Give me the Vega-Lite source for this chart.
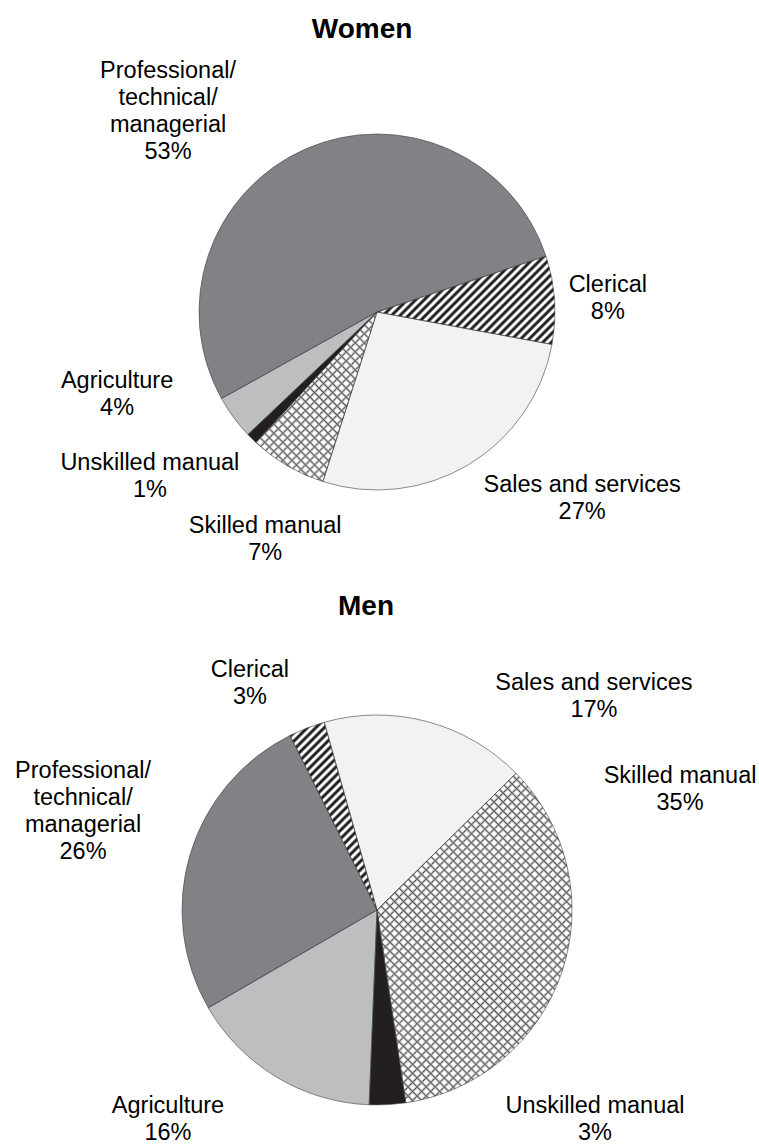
{
  "$schema": "https://vega.github.io/schema/vega-lite/v6.json",
  "background": "white",
  "padding": {"left": 0, "top": 16, "right": 0, "bottom": 0},
  "spacing": 26,
  "config": {
    "view": {"stroke": null},
    "font": "Liberation Sans",
    "text": {"fontSize": 23.5, "lineHeight": 27, "lineBreak": "\n", "align": "center", "baseline": "alphabetic", "font": "Liberation Sans", "color": "#000000"}
  },
  "datasets": {
    "occ": [
      {"sex": "Women", "occupation": "Clerical", "pct": 8},
      {"sex": "Women", "occupation": "Sales and services", "pct": 27},
      {"sex": "Women", "occupation": "Skilled manual", "pct": 7},
      {"sex": "Women", "occupation": "Unskilled manual", "pct": 1},
      {"sex": "Women", "occupation": "Agriculture", "pct": 4},
      {"sex": "Women", "occupation": "Professional/technical/managerial", "pct": 53},
      {"sex": "Men", "occupation": "Clerical", "pct": 3},
      {"sex": "Men", "occupation": "Sales and services", "pct": 17},
      {"sex": "Men", "occupation": "Skilled manual", "pct": 35},
      {"sex": "Men", "occupation": "Unskilled manual", "pct": 3},
      {"sex": "Men", "occupation": "Agriculture", "pct": 16},
      {"sex": "Men", "occupation": "Professional/technical/managerial", "pct": 26}
    ]
  },
  "vconcat": [
    {
      "title": {"text": "Women", "fontSize": 28, "fontWeight": "bold", "font": "Liberation Sans", "color": "#000000", "offset": 13, "dx": -15},
      "width": 754,
      "height": 510,
      "data": {"name": "occ"},
      "transform": [
        {"filter": "datum.sex === 'Women'"},
        {"stack": "pct", "groupby": ["sex"], "as": ["s0", "s1"]},
        {"calculate": "(datum.s0 + datum.s1) / 2", "as": "mid"},
        {"calculate": "join(split(datum.occupation, '/'), '/\\n') + '\\n' + datum.pct + '%'", "as": "label"}
      ],
      "layer": [
        {
          "mark": {"type": "arc", "radius": 178},
          "encoding": {
            "theta": {"field": "s0", "type": "quantitative", "stack": null, "scale": {"domain": [0, 100], "range": [1.2514, 7.53459]}},
            "theta2": {"field": "s1"},
            "color": {"field": "occupation", "type": "nominal", "legend": null, "scale": {"domain": ["Clerical", "Sales and services", "Skilled manual", "Unskilled manual", "Agriculture", "Professional/technical/managerial"], "range": ["#ffffff", "#f1f2f2", "#ffffff", "#231f20", "#bcbec0", "#808285"]}}
          }
        },
        {
          "transform": [{"filter": "datum.occupation === 'Clerical'"}],
          "mark": {"type": "arc", "radius": 178, "fill": {"gradient": "linear", "x1": 0, "y1": 0.6331, "x2": 0.9558, "y2": 1.1072, "stops": [
            {"offset":0,"color":"#222"},{"offset":0.01,"color":"#222"},{"offset":0.02,"color":"#fff"},{"offset":0.03,"color":"#fff"},
            {"offset":0.04,"color":"#222"},{"offset":0.05,"color":"#222"},{"offset":0.06,"color":"#fff"},{"offset":0.07,"color":"#fff"},
            {"offset":0.08,"color":"#222"},{"offset":0.09,"color":"#222"},{"offset":0.10,"color":"#fff"},{"offset":0.11,"color":"#fff"},
            {"offset":0.12,"color":"#222"},{"offset":0.13,"color":"#222"},{"offset":0.14,"color":"#fff"},{"offset":0.15,"color":"#fff"},
            {"offset":0.16,"color":"#222"},{"offset":0.17,"color":"#222"},{"offset":0.18,"color":"#fff"},{"offset":0.19,"color":"#fff"},
            {"offset":0.20,"color":"#222"},{"offset":0.21,"color":"#222"},{"offset":0.22,"color":"#fff"},{"offset":0.23,"color":"#fff"},
            {"offset":0.24,"color":"#222"},{"offset":0.25,"color":"#222"},{"offset":0.26,"color":"#fff"},{"offset":0.27,"color":"#fff"},
            {"offset":0.28,"color":"#222"},{"offset":0.29,"color":"#222"},{"offset":0.30,"color":"#fff"},{"offset":0.31,"color":"#fff"},
            {"offset":0.32,"color":"#222"},{"offset":0.33,"color":"#222"},{"offset":0.34,"color":"#fff"},{"offset":0.35,"color":"#fff"},
            {"offset":0.36,"color":"#222"},{"offset":0.37,"color":"#222"},{"offset":0.38,"color":"#fff"},{"offset":0.39,"color":"#fff"},
            {"offset":0.40,"color":"#222"},{"offset":0.41,"color":"#222"},{"offset":0.42,"color":"#fff"},{"offset":0.43,"color":"#fff"},
            {"offset":0.44,"color":"#222"},{"offset":0.45,"color":"#222"},{"offset":0.46,"color":"#fff"},{"offset":0.47,"color":"#fff"},
            {"offset":0.48,"color":"#222"},{"offset":0.49,"color":"#222"},{"offset":0.50,"color":"#fff"},{"offset":0.51,"color":"#fff"},
            {"offset":0.52,"color":"#222"},{"offset":0.53,"color":"#222"},{"offset":0.54,"color":"#fff"},{"offset":0.55,"color":"#fff"},
            {"offset":0.56,"color":"#222"},{"offset":0.57,"color":"#222"},{"offset":0.58,"color":"#fff"},{"offset":0.59,"color":"#fff"},
            {"offset":0.60,"color":"#222"},{"offset":0.61,"color":"#222"},{"offset":0.62,"color":"#fff"},{"offset":0.63,"color":"#fff"},
            {"offset":0.64,"color":"#222"},{"offset":0.65,"color":"#222"},{"offset":0.66,"color":"#fff"},{"offset":0.67,"color":"#fff"},
            {"offset":0.68,"color":"#222"},{"offset":0.69,"color":"#222"},{"offset":0.70,"color":"#fff"},{"offset":0.71,"color":"#fff"},
            {"offset":0.72,"color":"#222"},{"offset":0.73,"color":"#222"},{"offset":0.74,"color":"#fff"},{"offset":0.75,"color":"#fff"},
            {"offset":0.76,"color":"#222"},{"offset":0.77,"color":"#222"},{"offset":0.78,"color":"#fff"},{"offset":0.79,"color":"#fff"},
            {"offset":0.80,"color":"#222"},{"offset":0.81,"color":"#222"},{"offset":0.82,"color":"#fff"},{"offset":0.83,"color":"#fff"},
            {"offset":0.84,"color":"#222"},{"offset":0.85,"color":"#222"},{"offset":0.86,"color":"#fff"},{"offset":0.87,"color":"#fff"},
            {"offset":0.88,"color":"#222"},{"offset":0.89,"color":"#222"},{"offset":0.90,"color":"#fff"},{"offset":0.91,"color":"#fff"},
            {"offset":0.92,"color":"#222"},{"offset":0.93,"color":"#222"},{"offset":0.94,"color":"#fff"},{"offset":0.95,"color":"#fff"},
            {"offset":0.96,"color":"#222"},{"offset":0.97,"color":"#222"},{"offset":0.98,"color":"#fff"},{"offset":0.99,"color":"#fff"},
            {"offset":1,"color":"#222"}
          ]}},
          "encoding": {
            "theta": {"field": "s0", "type": "quantitative", "stack": null, "scale": {"domain": [0, 100], "range": [1.2514, 7.53459]}},
            "theta2": {"field": "s1"}
          }
        },
        {
          "transform": [{"filter": "datum.occupation === 'Skilled manual'"}],
          "mark": {"type": "arc", "radius": 178, "fill": {"gradient": "linear", "x1": 1, "y1": 0, "x2": 2.6819, "y2": 2.3535, "stops": [
            {"offset":0,"color":"#505050"},{"offset":0.005,"color":"#fff0"},{"offset":0.01,"color":"#fff0"},
            {"offset":0.015,"color":"#505050"},{"offset":0.02,"color":"#fff0"},{"offset":0.025,"color":"#fff0"},
            {"offset":0.03,"color":"#505050"},{"offset":0.035,"color":"#fff0"},{"offset":0.04,"color":"#fff0"},
            {"offset":0.045,"color":"#505050"},{"offset":0.05,"color":"#fff0"},{"offset":0.055,"color":"#fff0"},
            {"offset":0.06,"color":"#505050"},{"offset":0.065,"color":"#fff0"},{"offset":0.07,"color":"#fff0"},
            {"offset":0.075,"color":"#505050"},{"offset":0.08,"color":"#fff0"},{"offset":0.085,"color":"#fff0"},
            {"offset":0.09,"color":"#505050"},{"offset":0.095,"color":"#fff0"},{"offset":0.1,"color":"#fff0"},
            {"offset":0.105,"color":"#505050"},{"offset":0.11,"color":"#fff0"},{"offset":0.115,"color":"#fff0"},
            {"offset":0.12,"color":"#505050"},{"offset":0.125,"color":"#fff0"},{"offset":0.13,"color":"#fff0"},
            {"offset":0.135,"color":"#505050"},{"offset":0.14,"color":"#fff0"},{"offset":0.145,"color":"#fff0"},
            {"offset":0.15,"color":"#505050"},{"offset":0.155,"color":"#fff0"},{"offset":0.16,"color":"#fff0"},
            {"offset":0.165,"color":"#505050"},{"offset":0.17,"color":"#fff0"},{"offset":0.175,"color":"#fff0"},
            {"offset":0.18,"color":"#505050"},{"offset":0.185,"color":"#fff0"},{"offset":0.19,"color":"#fff0"},
            {"offset":0.195,"color":"#505050"}
          ]}},
          "encoding": {
            "theta": {"field": "s0", "type": "quantitative", "stack": null, "scale": {"domain": [0, 100], "range": [1.2514, 7.53459]}},
            "theta2": {"field": "s1"}
          }
        },
        {
          "transform": [{"filter": "datum.occupation === 'Skilled manual'"}],
          "mark": {"type": "arc", "radius": 178, "fill": {"gradient": "linear", "x1": 1, "y1": 1.4835, "x2": 2.6819, "y2": -0.87, "stops": [
            {"offset":0,"color":"#505050"},{"offset":0.005,"color":"#fff0"},{"offset":0.01,"color":"#fff0"},
            {"offset":0.015,"color":"#505050"},{"offset":0.02,"color":"#fff0"},{"offset":0.025,"color":"#fff0"},
            {"offset":0.03,"color":"#505050"},{"offset":0.035,"color":"#fff0"},{"offset":0.04,"color":"#fff0"},
            {"offset":0.045,"color":"#505050"},{"offset":0.05,"color":"#fff0"},{"offset":0.055,"color":"#fff0"},
            {"offset":0.06,"color":"#505050"},{"offset":0.065,"color":"#fff0"},{"offset":0.07,"color":"#fff0"},
            {"offset":0.075,"color":"#505050"},{"offset":0.08,"color":"#fff0"},{"offset":0.085,"color":"#fff0"},
            {"offset":0.09,"color":"#505050"},{"offset":0.095,"color":"#fff0"},{"offset":0.1,"color":"#fff0"},
            {"offset":0.105,"color":"#505050"},{"offset":0.11,"color":"#fff0"},{"offset":0.115,"color":"#fff0"},
            {"offset":0.12,"color":"#505050"},{"offset":0.125,"color":"#fff0"},{"offset":0.13,"color":"#fff0"},
            {"offset":0.135,"color":"#505050"},{"offset":0.14,"color":"#fff0"},{"offset":0.145,"color":"#fff0"},
            {"offset":0.15,"color":"#505050"},{"offset":0.155,"color":"#fff0"},{"offset":0.16,"color":"#fff0"},
            {"offset":0.165,"color":"#505050"},{"offset":0.17,"color":"#fff0"},{"offset":0.175,"color":"#fff0"},
            {"offset":0.18,"color":"#505050"},{"offset":0.185,"color":"#fff0"},{"offset":0.19,"color":"#fff0"},
            {"offset":0.195,"color":"#505050"},{"offset":0.2,"color":"#fff0"},{"offset":0.205,"color":"#fff0"},
            {"offset":0.21,"color":"#505050"},{"offset":0.215,"color":"#fff0"},{"offset":0.22,"color":"#fff0"},
            {"offset":0.225,"color":"#505050"},{"offset":0.23,"color":"#fff0"},{"offset":0.235,"color":"#fff0"},
            {"offset":0.24,"color":"#505050"},{"offset":0.245,"color":"#fff0"},{"offset":0.25,"color":"#fff0"},
            {"offset":0.255,"color":"#505050"},{"offset":0.26,"color":"#fff0"},{"offset":0.265,"color":"#fff0"},
            {"offset":0.27,"color":"#505050"},{"offset":0.275,"color":"#fff0"},{"offset":0.28,"color":"#fff0"},
            {"offset":0.285,"color":"#505050"},{"offset":0.29,"color":"#fff0"},{"offset":0.295,"color":"#fff0"},
            {"offset":0.3,"color":"#505050"},{"offset":0.305,"color":"#fff0"},{"offset":0.31,"color":"#fff0"},
            {"offset":0.315,"color":"#505050"},{"offset":0.32,"color":"#fff0"},{"offset":0.325,"color":"#fff0"},
            {"offset":0.33,"color":"#505050"},{"offset":0.335,"color":"#fff0"},{"offset":0.34,"color":"#fff0"},
            {"offset":0.345,"color":"#505050"},{"offset":0.35,"color":"#fff0"},{"offset":0.355,"color":"#fff0"},
            {"offset":0.36,"color":"#505050"},{"offset":0.365,"color":"#fff0"},{"offset":0.37,"color":"#fff0"},
            {"offset":0.375,"color":"#505050"},{"offset":0.38,"color":"#fff0"},{"offset":0.385,"color":"#fff0"},
            {"offset":0.39,"color":"#505050"},{"offset":0.395,"color":"#fff0"},{"offset":0.4,"color":"#fff0"},
            {"offset":0.405,"color":"#505050"},{"offset":0.41,"color":"#fff0"},{"offset":0.415,"color":"#fff0"},
            {"offset":0.42,"color":"#505050"}
          ]}},
          "encoding": {
            "theta": {"field": "s0", "type": "quantitative", "stack": null, "scale": {"domain": [0, 100], "range": [1.2514, 7.53459]}},
            "theta2": {"field": "s1"}
          }
        },
        {
          "mark": {"type": "arc", "radius": 178, "fillOpacity": 0, "stroke": "#414042", "strokeWidth": 0.6},
          "encoding": {
            "theta": {"field": "s0", "type": "quantitative", "stack": null, "scale": {"domain": [0, 100], "range": [1.2514, 7.53459]}},
            "theta2": {"field": "s1"}
          }
        },
        {
          "transform": [{"filter": "datum.occupation === 'Professional/technical/managerial'"}],
          "mark": {"type": "text", "radius": 313.5, "thetaOffset": -0.3159},
          "encoding": {"theta": {"field": "mid", "type": "quantitative", "stack": null, "scale": {"domain": [0, 100], "range": [1.2514, 7.53459]}}, "text": {"field": "label"}}
        },
        {
          "transform": [{"filter": "datum.occupation === 'Clerical'"}],
          "mark": {"type": "text", "radius": 231.7, "thetaOffset": -0.0192},
          "encoding": {"theta": {"field": "mid", "type": "quantitative", "stack": null, "scale": {"domain": [0, 100], "range": [1.2514, 7.53459]}}, "text": {"field": "label"}}
        },
        {
          "transform": [{"filter": "datum.occupation === 'Sales and services'"}],
          "mark": {"type": "text", "radius": 273.0, "thetaOffset": -0.3107},
          "encoding": {"theta": {"field": "mid", "type": "quantitative", "stack": null, "scale": {"domain": [0, 100], "range": [1.2514, 7.53459]}}, "text": {"field": "label"}}
        },
        {
          "transform": [{"filter": "datum.occupation === 'Skilled manual'"}],
          "mark": {"type": "text", "radius": 248.0, "thetaOffset": -0.0611},
          "encoding": {"theta": {"field": "mid", "type": "quantitative", "stack": null, "scale": {"domain": [0, 100], "range": [1.2514, 7.53459]}}, "text": {"field": "label"}}
        },
        {
          "transform": [{"filter": "datum.occupation === 'Unskilled manual'"}],
          "mark": {"type": "text", "radius": 276.6, "thetaOffset": 0.1833},
          "encoding": {"theta": {"field": "mid", "type": "quantitative", "stack": null, "scale": {"domain": [0, 100], "range": [1.2514, 7.53459]}}, "text": {"field": "label"}}
        },
        {
          "transform": [{"filter": "datum.occupation === 'Agriculture'"}],
          "mark": {"type": "text", "radius": 270.7, "thetaOffset": 0.3508},
          "encoding": {"theta": {"field": "mid", "type": "quantitative", "stack": null, "scale": {"domain": [0, 100], "range": [1.2514, 7.53459]}}, "text": {"field": "label"}}
        }
      ]
    },
    {
      "title": {"text": "Men", "fontSize": 28, "fontWeight": "bold", "font": "Liberation Sans", "color": "#000000", "offset": 36, "dx": -11},
      "width": 754,
      "height": 506,
      "data": {"name": "occ"},
      "transform": [
        {"filter": "datum.sex === 'Men'"},
        {"stack": "pct", "groupby": ["sex"], "as": ["s0", "s1"]},
        {"calculate": "(datum.s0 + datum.s1) / 2", "as": "mid"},
        {"calculate": "join(split(datum.occupation, '/'), '/\\n') + '\\n' + datum.pct + '%'", "as": "label"}
      ],
      "layer": [
        {
          "mark": {"type": "arc", "radius": 195},
          "encoding": {
            "theta": {"field": "s0", "type": "quantitative", "stack": null, "scale": {"domain": [0, 100], "range": [-0.46251, 5.82068]}},
            "theta2": {"field": "s1"},
            "color": {"field": "occupation", "type": "nominal", "legend": null, "scale": {"domain": ["Clerical", "Sales and services", "Skilled manual", "Unskilled manual", "Agriculture", "Professional/technical/managerial"], "range": ["#ffffff", "#f1f2f2", "#ffffff", "#231f20", "#bcbec0", "#808285"]}}
          }
        },
        {
          "transform": [{"filter": "datum.occupation === 'Clerical'"}],
          "mark": {"type": "arc", "radius": 195, "fill": {"gradient": "linear", "x1": 1, "y1": -0.3932, "x2": 1.5391, "y2": 0.7698, "stops": [
            {"offset":0,"color":"#222"},{"offset":0.008,"color":"#222"},{"offset":0.016,"color":"#fff"},{"offset":0.024,"color":"#fff"},
            {"offset":0.032,"color":"#222"},{"offset":0.04,"color":"#222"},{"offset":0.048,"color":"#fff"},{"offset":0.056,"color":"#fff"},
            {"offset":0.064,"color":"#222"},{"offset":0.072,"color":"#222"},{"offset":0.08,"color":"#fff"},{"offset":0.088,"color":"#fff"},
            {"offset":0.096,"color":"#222"},{"offset":0.104,"color":"#222"},{"offset":0.112,"color":"#fff"},{"offset":0.12,"color":"#fff"},
            {"offset":0.128,"color":"#222"},{"offset":0.136,"color":"#222"},{"offset":0.144,"color":"#fff"},{"offset":0.152,"color":"#fff"},
            {"offset":0.16,"color":"#222"},{"offset":0.168,"color":"#222"},{"offset":0.176,"color":"#fff"},{"offset":0.184,"color":"#fff"},
            {"offset":0.192,"color":"#222"},{"offset":0.2,"color":"#222"},{"offset":0.208,"color":"#fff"},{"offset":0.216,"color":"#fff"},
            {"offset":0.224,"color":"#222"},{"offset":0.232,"color":"#222"},{"offset":0.24,"color":"#fff"},{"offset":0.248,"color":"#fff"},
            {"offset":0.256,"color":"#222"},{"offset":0.264,"color":"#222"},{"offset":0.272,"color":"#fff"},{"offset":0.28,"color":"#fff"},
            {"offset":0.288,"color":"#222"},{"offset":0.296,"color":"#222"},{"offset":0.304,"color":"#fff"},{"offset":0.312,"color":"#fff"},
            {"offset":0.32,"color":"#222"},{"offset":0.328,"color":"#222"},{"offset":0.336,"color":"#fff"},{"offset":0.344,"color":"#fff"},
            {"offset":0.352,"color":"#222"},{"offset":0.36,"color":"#222"},{"offset":0.368,"color":"#fff"},{"offset":0.376,"color":"#fff"},
            {"offset":0.384,"color":"#222"},{"offset":0.392,"color":"#222"},{"offset":0.4,"color":"#fff"},{"offset":0.408,"color":"#fff"},
            {"offset":0.416,"color":"#222"},{"offset":0.424,"color":"#222"},{"offset":0.432,"color":"#fff"},{"offset":0.44,"color":"#fff"},
            {"offset":0.448,"color":"#222"},{"offset":0.456,"color":"#222"},{"offset":0.464,"color":"#fff"},{"offset":0.472,"color":"#fff"},
            {"offset":0.48,"color":"#222"},{"offset":0.488,"color":"#222"},{"offset":0.496,"color":"#fff"},{"offset":0.504,"color":"#fff"},
            {"offset":0.512,"color":"#222"},{"offset":0.52,"color":"#222"},{"offset":0.528,"color":"#fff"},{"offset":0.536,"color":"#fff"},
            {"offset":0.544,"color":"#222"},{"offset":0.552,"color":"#222"},{"offset":0.56,"color":"#fff"},{"offset":0.568,"color":"#fff"},
            {"offset":0.576,"color":"#222"},{"offset":0.584,"color":"#222"},{"offset":0.592,"color":"#fff"},{"offset":0.6,"color":"#fff"},
            {"offset":0.608,"color":"#222"},{"offset":0.616,"color":"#222"},{"offset":0.624,"color":"#fff"},{"offset":0.632,"color":"#fff"},
            {"offset":0.64,"color":"#222"},{"offset":0.648,"color":"#222"},{"offset":0.656,"color":"#fff"},{"offset":0.664,"color":"#fff"},
            {"offset":0.672,"color":"#222"},{"offset":0.68,"color":"#222"},{"offset":0.688,"color":"#fff"},{"offset":0.696,"color":"#fff"},
            {"offset":0.704,"color":"#222"},{"offset":0.712,"color":"#222"},{"offset":0.72,"color":"#fff"},{"offset":0.728,"color":"#fff"},
            {"offset":0.736,"color":"#222"},{"offset":0.744,"color":"#222"},{"offset":0.752,"color":"#fff"},{"offset":0.76,"color":"#fff"},
            {"offset":0.768,"color":"#222"},{"offset":0.776,"color":"#222"},{"offset":0.784,"color":"#fff"},{"offset":0.792,"color":"#fff"},
            {"offset":0.8,"color":"#222"},{"offset":0.808,"color":"#222"},{"offset":0.816,"color":"#fff"},{"offset":0.824,"color":"#fff"},
            {"offset":0.832,"color":"#222"},{"offset":0.84,"color":"#222"},{"offset":0.848,"color":"#fff"},{"offset":0.856,"color":"#fff"},
            {"offset":0.864,"color":"#222"},{"offset":0.872,"color":"#222"},{"offset":0.88,"color":"#fff"},{"offset":0.888,"color":"#fff"},
            {"offset":0.896,"color":"#222"},{"offset":0.904,"color":"#222"},{"offset":0.912,"color":"#fff"},{"offset":0.92,"color":"#fff"},
            {"offset":0.928,"color":"#222"},{"offset":0.936,"color":"#222"},{"offset":0.944,"color":"#fff"},{"offset":0.952,"color":"#fff"},
            {"offset":0.96,"color":"#222"},{"offset":0.968,"color":"#222"},{"offset":0.976,"color":"#fff"},{"offset":0.984,"color":"#fff"},
            {"offset":0.992,"color":"#222"},{"offset":1,"color":"#222"}
          ]}},
          "encoding": {
            "theta": {"field": "s0", "type": "quantitative", "stack": null, "scale": {"domain": [0, 100], "range": [-0.46251, 5.82068]}},
            "theta2": {"field": "s1"}
          }
        },
        {
          "transform": [{"filter": "datum.occupation === 'Skilled manual'"}],
          "mark": {"type": "arc", "radius": 195, "fill": {"gradient": "linear", "x1": 0, "y1": 0.4147, "x2": 0.8018, "y2": 1.77, "stops": [
            {"offset":0,"color":"#505050"},{"offset":0.005,"color":"#fff0"},{"offset":0.01,"color":"#fff0"},
            {"offset":0.015,"color":"#505050"},{"offset":0.02,"color":"#fff0"},{"offset":0.025,"color":"#fff0"},
            {"offset":0.03,"color":"#505050"},{"offset":0.035,"color":"#fff0"},{"offset":0.04,"color":"#fff0"},
            {"offset":0.045,"color":"#505050"},{"offset":0.05,"color":"#fff0"},{"offset":0.055,"color":"#fff0"},
            {"offset":0.06,"color":"#505050"},{"offset":0.065,"color":"#fff0"},{"offset":0.07,"color":"#fff0"},
            {"offset":0.075,"color":"#505050"},{"offset":0.08,"color":"#fff0"},{"offset":0.085,"color":"#fff0"},
            {"offset":0.09,"color":"#505050"},{"offset":0.095,"color":"#fff0"},{"offset":0.1,"color":"#fff0"},
            {"offset":0.105,"color":"#505050"},{"offset":0.11,"color":"#fff0"},{"offset":0.115,"color":"#fff0"},
            {"offset":0.12,"color":"#505050"},{"offset":0.125,"color":"#fff0"},{"offset":0.13,"color":"#fff0"},
            {"offset":0.135,"color":"#505050"},{"offset":0.14,"color":"#fff0"},{"offset":0.145,"color":"#fff0"},
            {"offset":0.15,"color":"#505050"},{"offset":0.155,"color":"#fff0"},{"offset":0.16,"color":"#fff0"},
            {"offset":0.165,"color":"#505050"},{"offset":0.17,"color":"#fff0"},{"offset":0.175,"color":"#fff0"},
            {"offset":0.18,"color":"#505050"},{"offset":0.185,"color":"#fff0"},{"offset":0.19,"color":"#fff0"},
            {"offset":0.195,"color":"#505050"},{"offset":0.2,"color":"#fff0"},{"offset":0.205,"color":"#fff0"},
            {"offset":0.21,"color":"#505050"},{"offset":0.215,"color":"#fff0"},{"offset":0.22,"color":"#fff0"},
            {"offset":0.225,"color":"#505050"},{"offset":0.23,"color":"#fff0"},{"offset":0.235,"color":"#fff0"},
            {"offset":0.24,"color":"#505050"},{"offset":0.245,"color":"#fff0"},{"offset":0.25,"color":"#fff0"},
            {"offset":0.255,"color":"#505050"},{"offset":0.26,"color":"#fff0"},{"offset":0.265,"color":"#fff0"},
            {"offset":0.27,"color":"#505050"},{"offset":0.275,"color":"#fff0"},{"offset":0.28,"color":"#fff0"},
            {"offset":0.285,"color":"#505050"},{"offset":0.29,"color":"#fff0"},{"offset":0.295,"color":"#fff0"},
            {"offset":0.3,"color":"#505050"},{"offset":0.305,"color":"#fff0"},{"offset":0.31,"color":"#fff0"},
            {"offset":0.315,"color":"#505050"},{"offset":0.32,"color":"#fff0"},{"offset":0.325,"color":"#fff0"},
            {"offset":0.33,"color":"#505050"},{"offset":0.335,"color":"#fff0"},{"offset":0.34,"color":"#fff0"},
            {"offset":0.345,"color":"#505050"},{"offset":0.35,"color":"#fff0"},{"offset":0.355,"color":"#fff0"},
            {"offset":0.36,"color":"#505050"},{"offset":0.365,"color":"#fff0"},{"offset":0.37,"color":"#fff0"},
            {"offset":0.375,"color":"#505050"},{"offset":0.38,"color":"#fff0"},{"offset":0.385,"color":"#fff0"},
            {"offset":0.39,"color":"#505050"},{"offset":0.395,"color":"#fff0"},{"offset":0.4,"color":"#fff0"},
            {"offset":0.405,"color":"#505050"},{"offset":0.41,"color":"#fff0"},{"offset":0.415,"color":"#fff0"},
            {"offset":0.42,"color":"#505050"},{"offset":0.425,"color":"#fff0"},{"offset":0.43,"color":"#fff0"},
            {"offset":0.435,"color":"#505050"},{"offset":0.44,"color":"#fff0"},{"offset":0.445,"color":"#fff0"},
            {"offset":0.45,"color":"#505050"},{"offset":0.455,"color":"#fff0"},{"offset":0.46,"color":"#fff0"},
            {"offset":0.465,"color":"#505050"}
          ]}},
          "encoding": {
            "theta": {"field": "s0", "type": "quantitative", "stack": null, "scale": {"domain": [0, 100], "range": [-0.46251, 5.82068]}},
            "theta2": {"field": "s1"}
          }
        },
        {
          "transform": [{"filter": "datum.occupation === 'Skilled manual'"}],
          "mark": {"type": "arc", "radius": 195, "fill": {"gradient": "linear", "x1": 0, "y1": 0.9123, "x2": 0.8018, "y2": -0.443, "stops": [
            {"offset":0,"color":"#505050"},{"offset":0.005,"color":"#fff0"},{"offset":0.01,"color":"#fff0"},
            {"offset":0.015,"color":"#505050"},{"offset":0.02,"color":"#fff0"},{"offset":0.025,"color":"#fff0"},
            {"offset":0.03,"color":"#505050"},{"offset":0.035,"color":"#fff0"},{"offset":0.04,"color":"#fff0"},
            {"offset":0.045,"color":"#505050"},{"offset":0.05,"color":"#fff0"},{"offset":0.055,"color":"#fff0"},
            {"offset":0.06,"color":"#505050"},{"offset":0.065,"color":"#fff0"},{"offset":0.07,"color":"#fff0"},
            {"offset":0.075,"color":"#505050"},{"offset":0.08,"color":"#fff0"},{"offset":0.085,"color":"#fff0"},
            {"offset":0.09,"color":"#505050"},{"offset":0.095,"color":"#fff0"},{"offset":0.1,"color":"#fff0"},
            {"offset":0.105,"color":"#505050"},{"offset":0.11,"color":"#fff0"},{"offset":0.115,"color":"#fff0"},
            {"offset":0.12,"color":"#505050"},{"offset":0.125,"color":"#fff0"},{"offset":0.13,"color":"#fff0"},
            {"offset":0.135,"color":"#505050"},{"offset":0.14,"color":"#fff0"},{"offset":0.145,"color":"#fff0"},
            {"offset":0.15,"color":"#505050"},{"offset":0.155,"color":"#fff0"},{"offset":0.16,"color":"#fff0"},
            {"offset":0.165,"color":"#505050"},{"offset":0.17,"color":"#fff0"},{"offset":0.175,"color":"#fff0"},
            {"offset":0.18,"color":"#505050"},{"offset":0.185,"color":"#fff0"},{"offset":0.19,"color":"#fff0"},
            {"offset":0.195,"color":"#505050"},{"offset":0.2,"color":"#fff0"},{"offset":0.205,"color":"#fff0"},
            {"offset":0.21,"color":"#505050"},{"offset":0.215,"color":"#fff0"},{"offset":0.22,"color":"#fff0"},
            {"offset":0.225,"color":"#505050"},{"offset":0.23,"color":"#fff0"},{"offset":0.235,"color":"#fff0"},
            {"offset":0.24,"color":"#505050"},{"offset":0.245,"color":"#fff0"},{"offset":0.25,"color":"#fff0"},
            {"offset":0.255,"color":"#505050"},{"offset":0.26,"color":"#fff0"},{"offset":0.265,"color":"#fff0"},
            {"offset":0.27,"color":"#505050"},{"offset":0.275,"color":"#fff0"},{"offset":0.28,"color":"#fff0"},
            {"offset":0.285,"color":"#505050"},{"offset":0.29,"color":"#fff0"},{"offset":0.295,"color":"#fff0"},
            {"offset":0.3,"color":"#505050"},{"offset":0.305,"color":"#fff0"},{"offset":0.31,"color":"#fff0"},
            {"offset":0.315,"color":"#505050"},{"offset":0.32,"color":"#fff0"},{"offset":0.325,"color":"#fff0"},
            {"offset":0.33,"color":"#505050"},{"offset":0.335,"color":"#fff0"},{"offset":0.34,"color":"#fff0"},
            {"offset":0.345,"color":"#505050"},{"offset":0.35,"color":"#fff0"},{"offset":0.355,"color":"#fff0"},
            {"offset":0.36,"color":"#505050"},{"offset":0.365,"color":"#fff0"},{"offset":0.37,"color":"#fff0"},
            {"offset":0.375,"color":"#505050"},{"offset":0.38,"color":"#fff0"},{"offset":0.385,"color":"#fff0"},
            {"offset":0.39,"color":"#505050"},{"offset":0.395,"color":"#fff0"},{"offset":0.4,"color":"#fff0"},
            {"offset":0.405,"color":"#505050"},{"offset":0.41,"color":"#fff0"},{"offset":0.415,"color":"#fff0"},
            {"offset":0.42,"color":"#505050"},{"offset":0.425,"color":"#fff0"},{"offset":0.43,"color":"#fff0"},
            {"offset":0.435,"color":"#505050"},{"offset":0.44,"color":"#fff0"},{"offset":0.445,"color":"#fff0"},
            {"offset":0.45,"color":"#505050"},{"offset":0.455,"color":"#fff0"},{"offset":0.46,"color":"#fff0"},
            {"offset":0.465,"color":"#505050"},{"offset":0.47,"color":"#fff0"},{"offset":0.475,"color":"#fff0"},
            {"offset":0.48,"color":"#505050"},{"offset":0.485,"color":"#fff0"},{"offset":0.49,"color":"#fff0"},
            {"offset":0.495,"color":"#505050"},{"offset":0.5,"color":"#fff0"},{"offset":0.505,"color":"#fff0"},
            {"offset":0.51,"color":"#505050"},{"offset":0.515,"color":"#fff0"},{"offset":0.52,"color":"#fff0"},
            {"offset":0.525,"color":"#505050"},{"offset":0.53,"color":"#fff0"},{"offset":0.535,"color":"#fff0"},
            {"offset":0.54,"color":"#505050"},{"offset":0.545,"color":"#fff0"},{"offset":0.55,"color":"#fff0"},
            {"offset":0.555,"color":"#505050"},{"offset":0.56,"color":"#fff0"},{"offset":0.565,"color":"#fff0"},
            {"offset":0.57,"color":"#505050"},{"offset":0.575,"color":"#fff0"},{"offset":0.58,"color":"#fff0"},
            {"offset":0.585,"color":"#505050"},{"offset":0.59,"color":"#fff0"},{"offset":0.595,"color":"#fff0"},
            {"offset":0.6,"color":"#505050"},{"offset":0.605,"color":"#fff0"},{"offset":0.61,"color":"#fff0"},
            {"offset":0.615,"color":"#505050"},{"offset":0.62,"color":"#fff0"},{"offset":0.625,"color":"#fff0"},
            {"offset":0.63,"color":"#505050"},{"offset":0.635,"color":"#fff0"},{"offset":0.64,"color":"#fff0"},
            {"offset":0.645,"color":"#505050"},{"offset":0.65,"color":"#fff0"},{"offset":0.655,"color":"#fff0"},
            {"offset":0.66,"color":"#505050"},{"offset":0.665,"color":"#fff0"},{"offset":0.67,"color":"#fff0"},
            {"offset":0.675,"color":"#505050"},{"offset":0.68,"color":"#fff0"},{"offset":0.685,"color":"#fff0"},
            {"offset":0.69,"color":"#505050"},{"offset":0.695,"color":"#fff0"},{"offset":0.7,"color":"#fff0"},
            {"offset":0.705,"color":"#505050"},{"offset":0.71,"color":"#fff0"},{"offset":0.715,"color":"#fff0"},
            {"offset":0.72,"color":"#505050"},{"offset":0.725,"color":"#fff0"},{"offset":0.73,"color":"#fff0"},
            {"offset":0.735,"color":"#505050"}
          ]}},
          "encoding": {
            "theta": {"field": "s0", "type": "quantitative", "stack": null, "scale": {"domain": [0, 100], "range": [-0.46251, 5.82068]}},
            "theta2": {"field": "s1"}
          }
        },
        {
          "mark": {"type": "arc", "radius": 195, "fillOpacity": 0, "stroke": "#414042", "strokeWidth": 0.6},
          "encoding": {
            "theta": {"field": "s0", "type": "quantitative", "stack": null, "scale": {"domain": [0, 100], "range": [-0.46251, 5.82068]}},
            "theta2": {"field": "s1"}
          }
        },
        {
          "transform": [{"filter": "datum.occupation === 'Clerical'"}],
          "mark": {"type": "text", "radius": 265.6, "thetaOffset": -0.1309},
          "encoding": {"theta": {"field": "mid", "type": "quantitative", "stack": null, "scale": {"domain": [0, 100], "range": [-0.46251, 5.82068]}}, "text": {"field": "label"}}
        },
        {
          "transform": [{"filter": "datum.occupation === 'Sales and services'"}],
          "mark": {"type": "text", "radius": 309.0, "thetaOffset": 0.5184},
          "encoding": {"theta": {"field": "mid", "type": "quantitative", "stack": null, "scale": {"domain": [0, 100], "range": [-0.46251, 5.82068]}}, "text": {"field": "label"}}
        },
        {
          "transform": [{"filter": "datum.occupation === 'Skilled manual'"}],
          "mark": {"type": "text", "radius": 328.5, "thetaOffset": -0.7191},
          "encoding": {"theta": {"field": "mid", "type": "quantitative", "stack": null, "scale": {"domain": [0, 100], "range": [-0.46251, 5.82068]}}, "text": {"field": "label"}}
        },
        {
          "transform": [{"filter": "datum.occupation === 'Unskilled manual'"}],
          "mark": {"type": "text", "radius": 297.9, "thetaOffset": -0.7669},
          "encoding": {"theta": {"field": "mid", "type": "quantitative", "stack": null, "scale": {"domain": [0, 100], "range": [-0.46251, 5.82068]}}, "text": {"field": "label"}}
        },
        {
          "transform": [{"filter": "datum.occupation === 'Agriculture'"}],
          "mark": {"type": "text", "radius": 291.4, "thetaOffset": 0.2571},
          "encoding": {"theta": {"field": "mid", "type": "quantitative", "stack": null, "scale": {"domain": [0, 100], "range": [-0.46251, 5.82068]}}, "text": {"field": "label"}}
        },
        {
          "transform": [{"filter": "datum.occupation === 'Professional/technical/managerial'"}],
          "mark": {"type": "text", "radius": 322.3, "thetaOffset": 0.1309},
          "encoding": {"theta": {"field": "mid", "type": "quantitative", "stack": null, "scale": {"domain": [0, 100], "range": [-0.46251, 5.82068]}}, "text": {"field": "label"}}
        }
      ]
    }
  ]
}
